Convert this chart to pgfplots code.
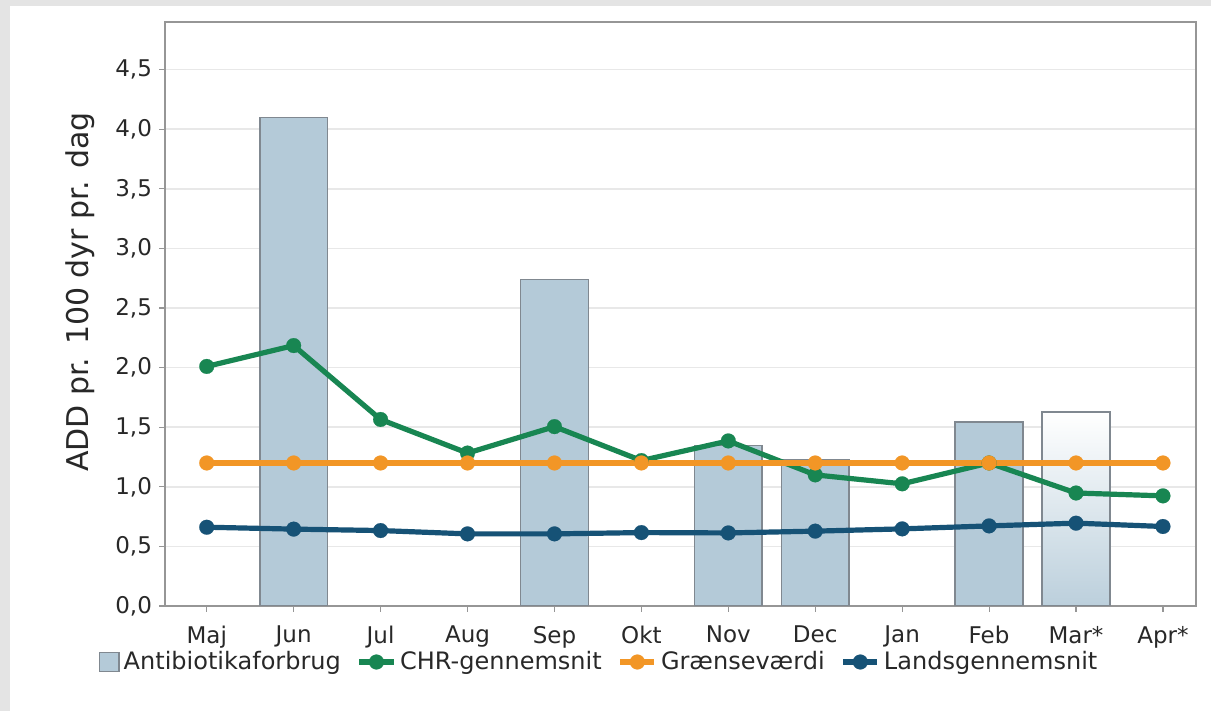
\documentclass[border=0pt]{standalone}
\usepackage{fontspec}
\setmainfont{DejaVu Sans}
\usepackage{pgfplots}
\pgfplotsset{compat=1.18}
\definecolor{bgc}{RGB}{228,228,228}
\definecolor{barc}{RGB}{180,202,216}
\definecolor{bard}{RGB}{128,136,144}
\definecolor{chr}{RGB}{24,134,82}
\definecolor{gv}{RGB}{242,150,38}
\definecolor{lands}{RGB}{22,82,118}
\definecolor{axc}{RGB}{150,150,150}
\definecolor{txt}{RGB}{40,40,40}
\begin{document}
\begin{tikzpicture}
\useasboundingbox (0,0) rectangle (605.5pt,355.5pt);
\fill[bgc] (0,0) rectangle (605.5pt,355.5pt);
\fill[white] (5pt,0) rectangle (605.5pt,352.5pt);
\begin{axis}[
  at={(82.5pt,52.5pt)}, anchor=south west,
  width=515.5pt, height=292pt, scale only axis,
  xmin=-0.48, xmax=11.38, ymin=0, ymax=4.9,
  xtick={0,1,2,3,4,5,6,7,8,9,10,11},
  xticklabels={Maj,Jun,Jul,Aug,Sep,Okt,Nov,Dec,Jan,Feb,Mar*,Apr*},
  ytick={0,0.5,1,1.5,2,2.5,3,3.5,4,4.5},
  xtick pos=left, ytick pos=left,
  yticklabel style={/pgf/number format/.cd, fixed, fixed zerofill, precision=1, use comma, assume math mode=true},
  xticklabel style={yshift=-3.5pt},
  tick label style={font=\fontsize{11.5}{13}\selectfont, text=txt},
  tick align=outside, major tick length=3pt,
  tick style={axc, line width=0.6pt},
  axis line style={axc, line width=1pt},
  ymajorgrids, grid style={gray!18, line width=0.8pt},
  every axis y label/.style={at={(axis description cs:0,0.5377)}, xshift=-42.5pt, rotate=90, anchor=center},
  ylabel={ADD pr. 100 dyr pr. dag},
  ylabel style={font=\fontsize{15}{18}\selectfont, text=txt},
  legend style={at={(axis description cs:0.422,-0.0959)}, anchor=center, draw=none, fill=none,
    font=\fontsize{12}{14}\selectfont, text=txt, legend columns=4,
    /tikz/every even column/.append style={column sep=6pt}},
  legend cell align=left,
]
\addplot[ybar, bar shift=0pt, bar width=0.78, fill=barc, draw=bard, line width=0.8pt,
  legend image code/.code={\draw[fill=barc, draw=bard, line width=0.8pt] (0cm,-0.17cm) rectangle (0.34cm,0.17cm);}]
  coordinates {(1,4.10) (4,2.74) (6,1.345) (7,1.225) (9,1.545)};
\addlegendentry{Antibiotikaforbrug}
\addplot[ybar, bar shift=0pt, bar width=0.78, top color=white, bottom color=barc!90, draw=bard, line width=0.8pt, forget plot]
  coordinates {(10,1.628)};
\addplot[chr, line width=2.6pt, mark=*, mark size=3.7pt, mark options={fill=chr, draw=chr, line width=0.1pt}]
  coordinates {(0,2.01) (1,2.185) (2,1.565) (3,1.283) (4,1.505) (5,1.22) (6,1.385) (7,1.10) (8,1.025) (9,1.20) (10,0.948) (11,0.924)};
\addlegendentry{CHR-gennemsnit}
\addplot[gv, line width=2.6pt, mark=*, mark size=3.7pt, mark options={fill=gv, draw=gv, line width=0.1pt}]
  coordinates {(0,1.2) (1,1.2) (2,1.2) (3,1.2) (4,1.2) (5,1.2) (6,1.2) (7,1.2) (8,1.2) (9,1.2) (10,1.2) (11,1.2)};
\addlegendentry{Grænseværdi}
\addplot[lands, line width=2.6pt, mark=*, mark size=3.7pt, mark options={fill=lands, draw=lands, line width=0.1pt}]
  coordinates {(0,0.661) (1,0.645) (2,0.633) (3,0.605) (4,0.605) (5,0.616) (6,0.613) (7,0.628) (8,0.647) (9,0.672) (10,0.695) (11,0.667)};
\addlegendentry{Landsgennemsnit}
\end{axis}
\end{tikzpicture}
\end{document}
